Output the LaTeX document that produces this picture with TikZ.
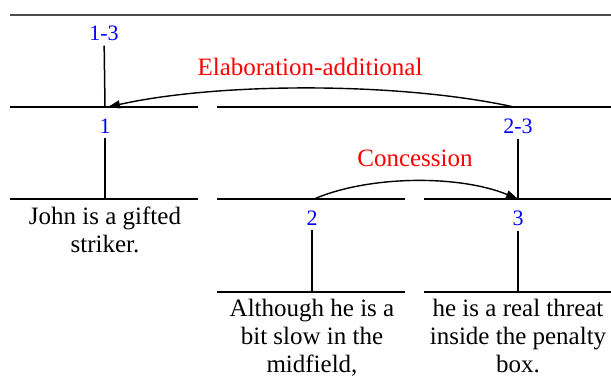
\documentclass[tikz,border=0pt]{standalone}
\usepackage{fontspec}
\setmainfont{Liberation Serif}
\usetikzlibrary{arrows.meta}

\begin{document}
\begin{tikzpicture}[
    x=1pt, y=-1pt,                          % pixel-style coordinates, y grows downward
    span/.style={line width=1.5pt},
    stem/.style={line width=1.5pt},
    numlbl/.style={text=blue, font=\fontsize{22}{24}\selectfont, inner xsep=0pt, inner ysep=5pt},
    rellbl/.style={text=red, font=\fontsize{25}{27}\selectfont, inner sep=0pt},
    edu/.style={font=\fontsize{25}{28}\selectfont, align=center, inner sep=0pt, anchor=north},
    rel/.style={line width=1.4pt, -{Triangle[length=12pt,width=8pt]}},
  ]
  \useasboundingbox (0,0) rectangle (611,377);

  % ---------- span lines (one row per tree level) ----------
  \draw[span, black!70] (10,15) -- (611,15);
  \draw[span] (10,107) -- (198,107);
  \draw[span] (217,107) -- (611,107);
  \draw[span] (10,199) -- (198,199);
  \draw[span] (217,199) -- (405,199);
  \draw[span] (424,199) -- (611,199);
  \draw[span] (217,292) -- (405,292);
  \draw[span] (424,292) -- (611,292);

  % ---------- attachment points on the span lines ----------
  \coordinate (j1)  at (105,107);
  \coordinate (j23) at (518,199);
  \coordinate (e1)  at (105,199);
  \coordinate (e2)  at (312,292);
  \coordinate (e3)  at (518,292);
  \coordinate (from23) at (514,107);
  \coordinate (to1)    at (108,107);
  \coordinate (from2)  at (314,199);
  \coordinate (to3)    at (518,199);

  % ---------- span numbers ----------
  \node[numlbl] (n13) at (104,33)  {1-3};
  \node[numlbl] (n1)  at (105,126) {1};
  \node[numlbl] (n23) at (518,126) {2-3};
  \node[numlbl] (n2)  at (312,218) {2};
  \node[numlbl] (n3)  at (518,218) {3};

  % ---------- stems ----------
  \draw[stem] (n13) -- (j1);
  \draw[stem] (n1)  -- (e1);
  \draw[stem] (n23) -- (j23);
  \draw[stem] (n2)  -- (e2);
  \draw[stem] (n3)  -- (e3);

  % ---------- relations ----------
  \draw[rel] (from23) .. controls (400,82) and (220,82) .. (to1);
  \node[rellbl] (elab) at (310,67) {Elaboration-additional};
  \draw[rel] (from2) .. controls (370,175) and (460,175) .. (to3);
  \node[rellbl] (conc) at (415,158) {Concession};

  % ---------- elementary units ----------
  \node[edu] (u1) at (105,207) {John is a gifted\\striker.};
  \node[edu] (u2) at (312,299) {Although he is a\\bit slow in the\\midfield,};
  \node[edu] (u3) at (518,299) {he is a real threat\\inside the penalty\\box.};

\end{tikzpicture}
\end{document}
